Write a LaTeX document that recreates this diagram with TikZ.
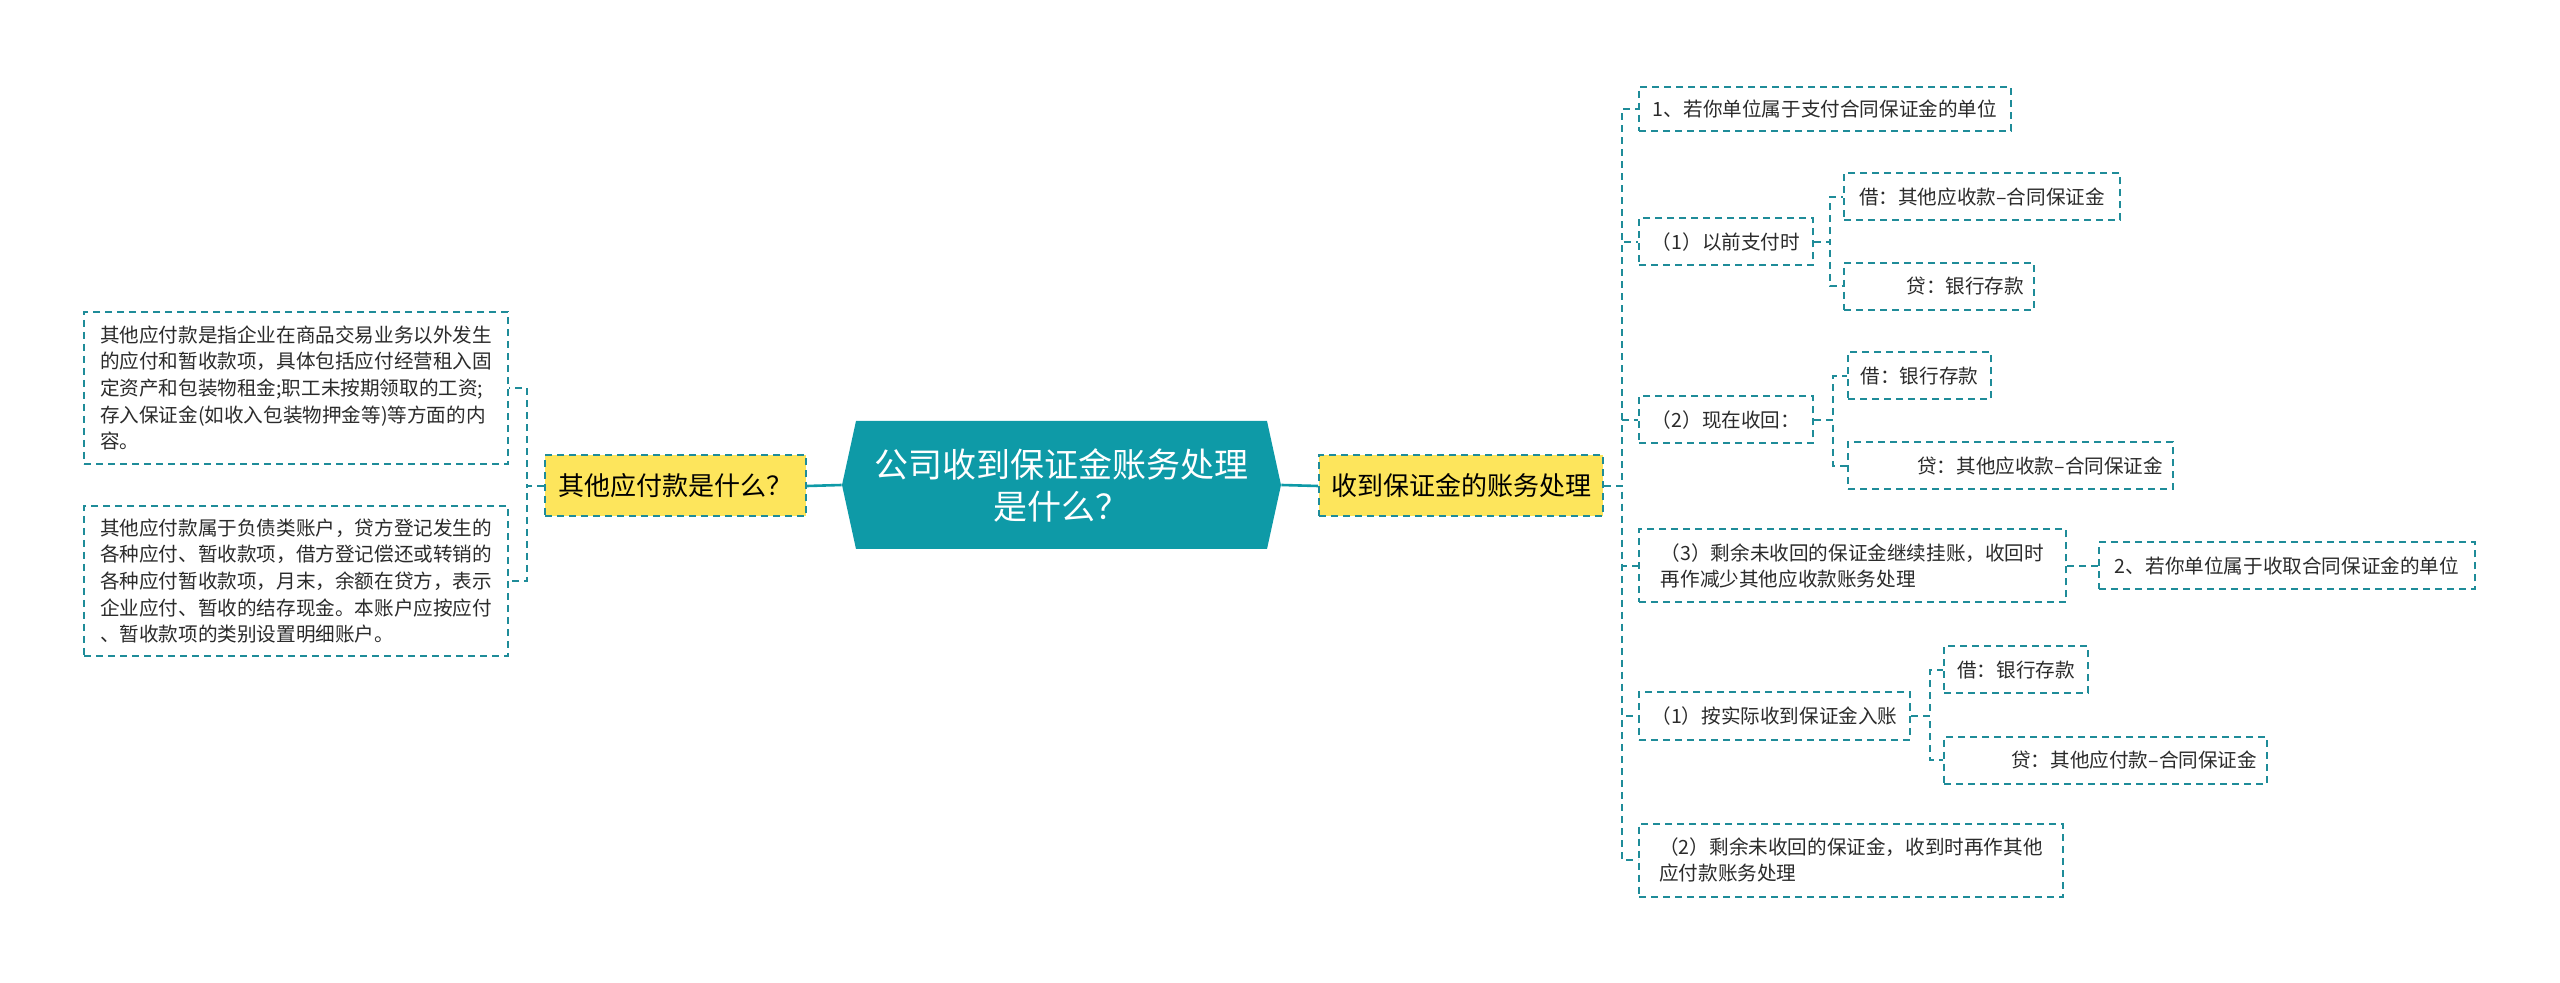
\documentclass[tikz,border=0pt]{standalone}
\usepackage{fontspec}
\setmainfont{Noto Sans CJK SC}
\definecolor{hexc}{HTML}{0E9AA7}
\definecolor{linec}{HTML}{1F8C99}
\definecolor{yellowc}{HTML}{FDE55C}
\definecolor{textc}{HTML}{2B2B2B}
\tikzset{
  box/.style={draw=linec, line width=1pt, dash pattern=on 3.5pt off 2.5pt, fill=white, text=textc,
    font=\fontsize{9.8}{13.3}\selectfont, inner sep=0pt, minimum height=23.5pt},
  ybox/.style={box, fill=yellowc, text=black, font=\fontsize{13}{16}\selectfont, minimum height=30.5pt},
  conn/.style={draw=linec, line width=1pt, dash pattern=on 3.5pt off 2.5pt},
  rootline/.style={draw=hexc, line width=1.3pt},
  rootnode/.style={inner sep=0pt, minimum width=219.5pt, minimum height=64pt, align=center, text=white,
    font=\fontsize{17}{21}\selectfont,
    path picture={\fill[hexc] (path picture bounding box.west) -- ([xshift=7pt]path picture bounding box.north west) -- ([xshift=-7pt]path picture bounding box.north east) -- (path picture bounding box.east) -- ([xshift=-7pt]path picture bounding box.south east) -- ([xshift=7pt]path picture bounding box.south west) -- cycle;}},
}
\begin{document}
\begin{tikzpicture}[x=0.5pt,y=-0.5pt]
\useasboundingbox (0,0) rectangle (2560,983);
% root
\node[rootnode] (root) at (1061.5,485) {公司收到保证金账务处理\\是什么？};
% yellow nodes
\node[ybox, anchor=west, minimum width=130.5pt] (yl) at (544,486) {其他应付款是什么？};
\node[ybox, anchor=west, minimum width=142pt] (yr) at (1318,486) {收到保证金的账务处理};
% left boxes
\node[box, anchor=east, minimum width=212pt, minimum height=76pt, align=left] (L1) at (509,388) {其他应付款是指企业在商品交易业务以外发生\\的应付和暂收款项，具体包括应付经营租入固\\定资产和包装物租金;职工未按期领取的工资;\\存入保证金(如收入包装物押金等)等方面的内\\容。};
\node[box, anchor=east, minimum width=212pt, minimum height=75pt, align=left] (L2) at (509,581) {其他应付款属于负债类账户，贷方登记发生的\\各种应付、暂收款项，借方登记偿还或转销的\\各种应付暂收款项，月末，余额在贷方，表示\\企业应付、暂收的结存现金。本账户应按应付\\、暂收款项的类别设置明细账户。};
% right level 1
\node[box, anchor=west, minimum width=186pt, minimum height=22pt] (n1) at (1638,109) {1、若你单位属于支付合同保证金的单位};
\node[box, anchor=west, minimum width=87pt] (p1) at (1638,242) {（1）以前支付时};
\node[box, anchor=west, minimum width=87pt] (p2) at (1638,420) {（2）现在收回：};
\node[box, anchor=west, minimum width=213.5pt, minimum height=36.5pt, align=left] (p3) at (1638,566) {（3）剩余未收回的保证金继续挂账，收回时\\再作减少其他应收款账务处理};
\node[box, anchor=west, minimum width=135.5pt] (q1) at (1638,716) {（1）按实际收到保证金入账};
\node[box, anchor=west, minimum width=212pt, minimum height=36.5pt, align=left] (q2) at (1638,860) {（2）剩余未收回的保证金，收到时再作其他\\应付款账务处理};
% right level 2
\node[box, anchor=west, minimum width=138pt] (p1a) at (1843,197) {借：其他应收款–合同保证金};
\node[box, anchor=west, text width=85pt, inner xsep=5pt, align=right] (p1b) at (1843,286.5) {贷：银行存款};
\node[box, anchor=west, minimum width=71.5pt] (p2a) at (1847,376) {借：银行存款};
\node[box, anchor=west, text width=152.5pt, inner xsep=5pt, align=right] (p2b) at (1847,466) {贷：其他应收款–合同保证金};
\node[box, anchor=west, minimum width=188pt] (n2) at (2098,566) {2、若你单位属于收取合同保证金的单位};
\node[box, anchor=west, minimum width=72pt] (q1a) at (1943,670) {借：银行存款};
\node[box, anchor=west, text width=151.5pt, inner xsep=5pt, align=right] (q1b) at (1943,760) {贷：其他应付款–合同保证金};
% root connectors
\draw[rootline] (root.west) -- (yl.east);
\draw[rootline] (root.east) -- (yr.west);
% left connectors
\draw[conn] (yl.west) -- ++(-8.5pt,0) |- (L1.east);
\draw[conn] (yl.west) -- ++(-8.5pt,0) |- (L2.east);
% right connectors
\foreach \c in {n1,p1,p2,p3,q1,q2}
  \draw[conn] (yr.east) -- ++(9pt,0) |- (\c.west);
\draw[conn] (p1.east) -- ++(8pt,0) |- (p1a.west);
\draw[conn] (p1.east) -- ++(8pt,0) |- (p1b.west);
\draw[conn] (p2.east) -- ++(9.5pt,0) |- (p2a.west);
\draw[conn] (p2.east) -- ++(9.5pt,0) |- (p2b.west);
\draw[conn] (p3.east) -- (n2.west);
\draw[conn] (q1.east) -- ++(9.5pt,0) |- (q1a.west);
\draw[conn] (q1.east) -- ++(9.5pt,0) |- (q1b.west);
\end{tikzpicture}
\end{document}
